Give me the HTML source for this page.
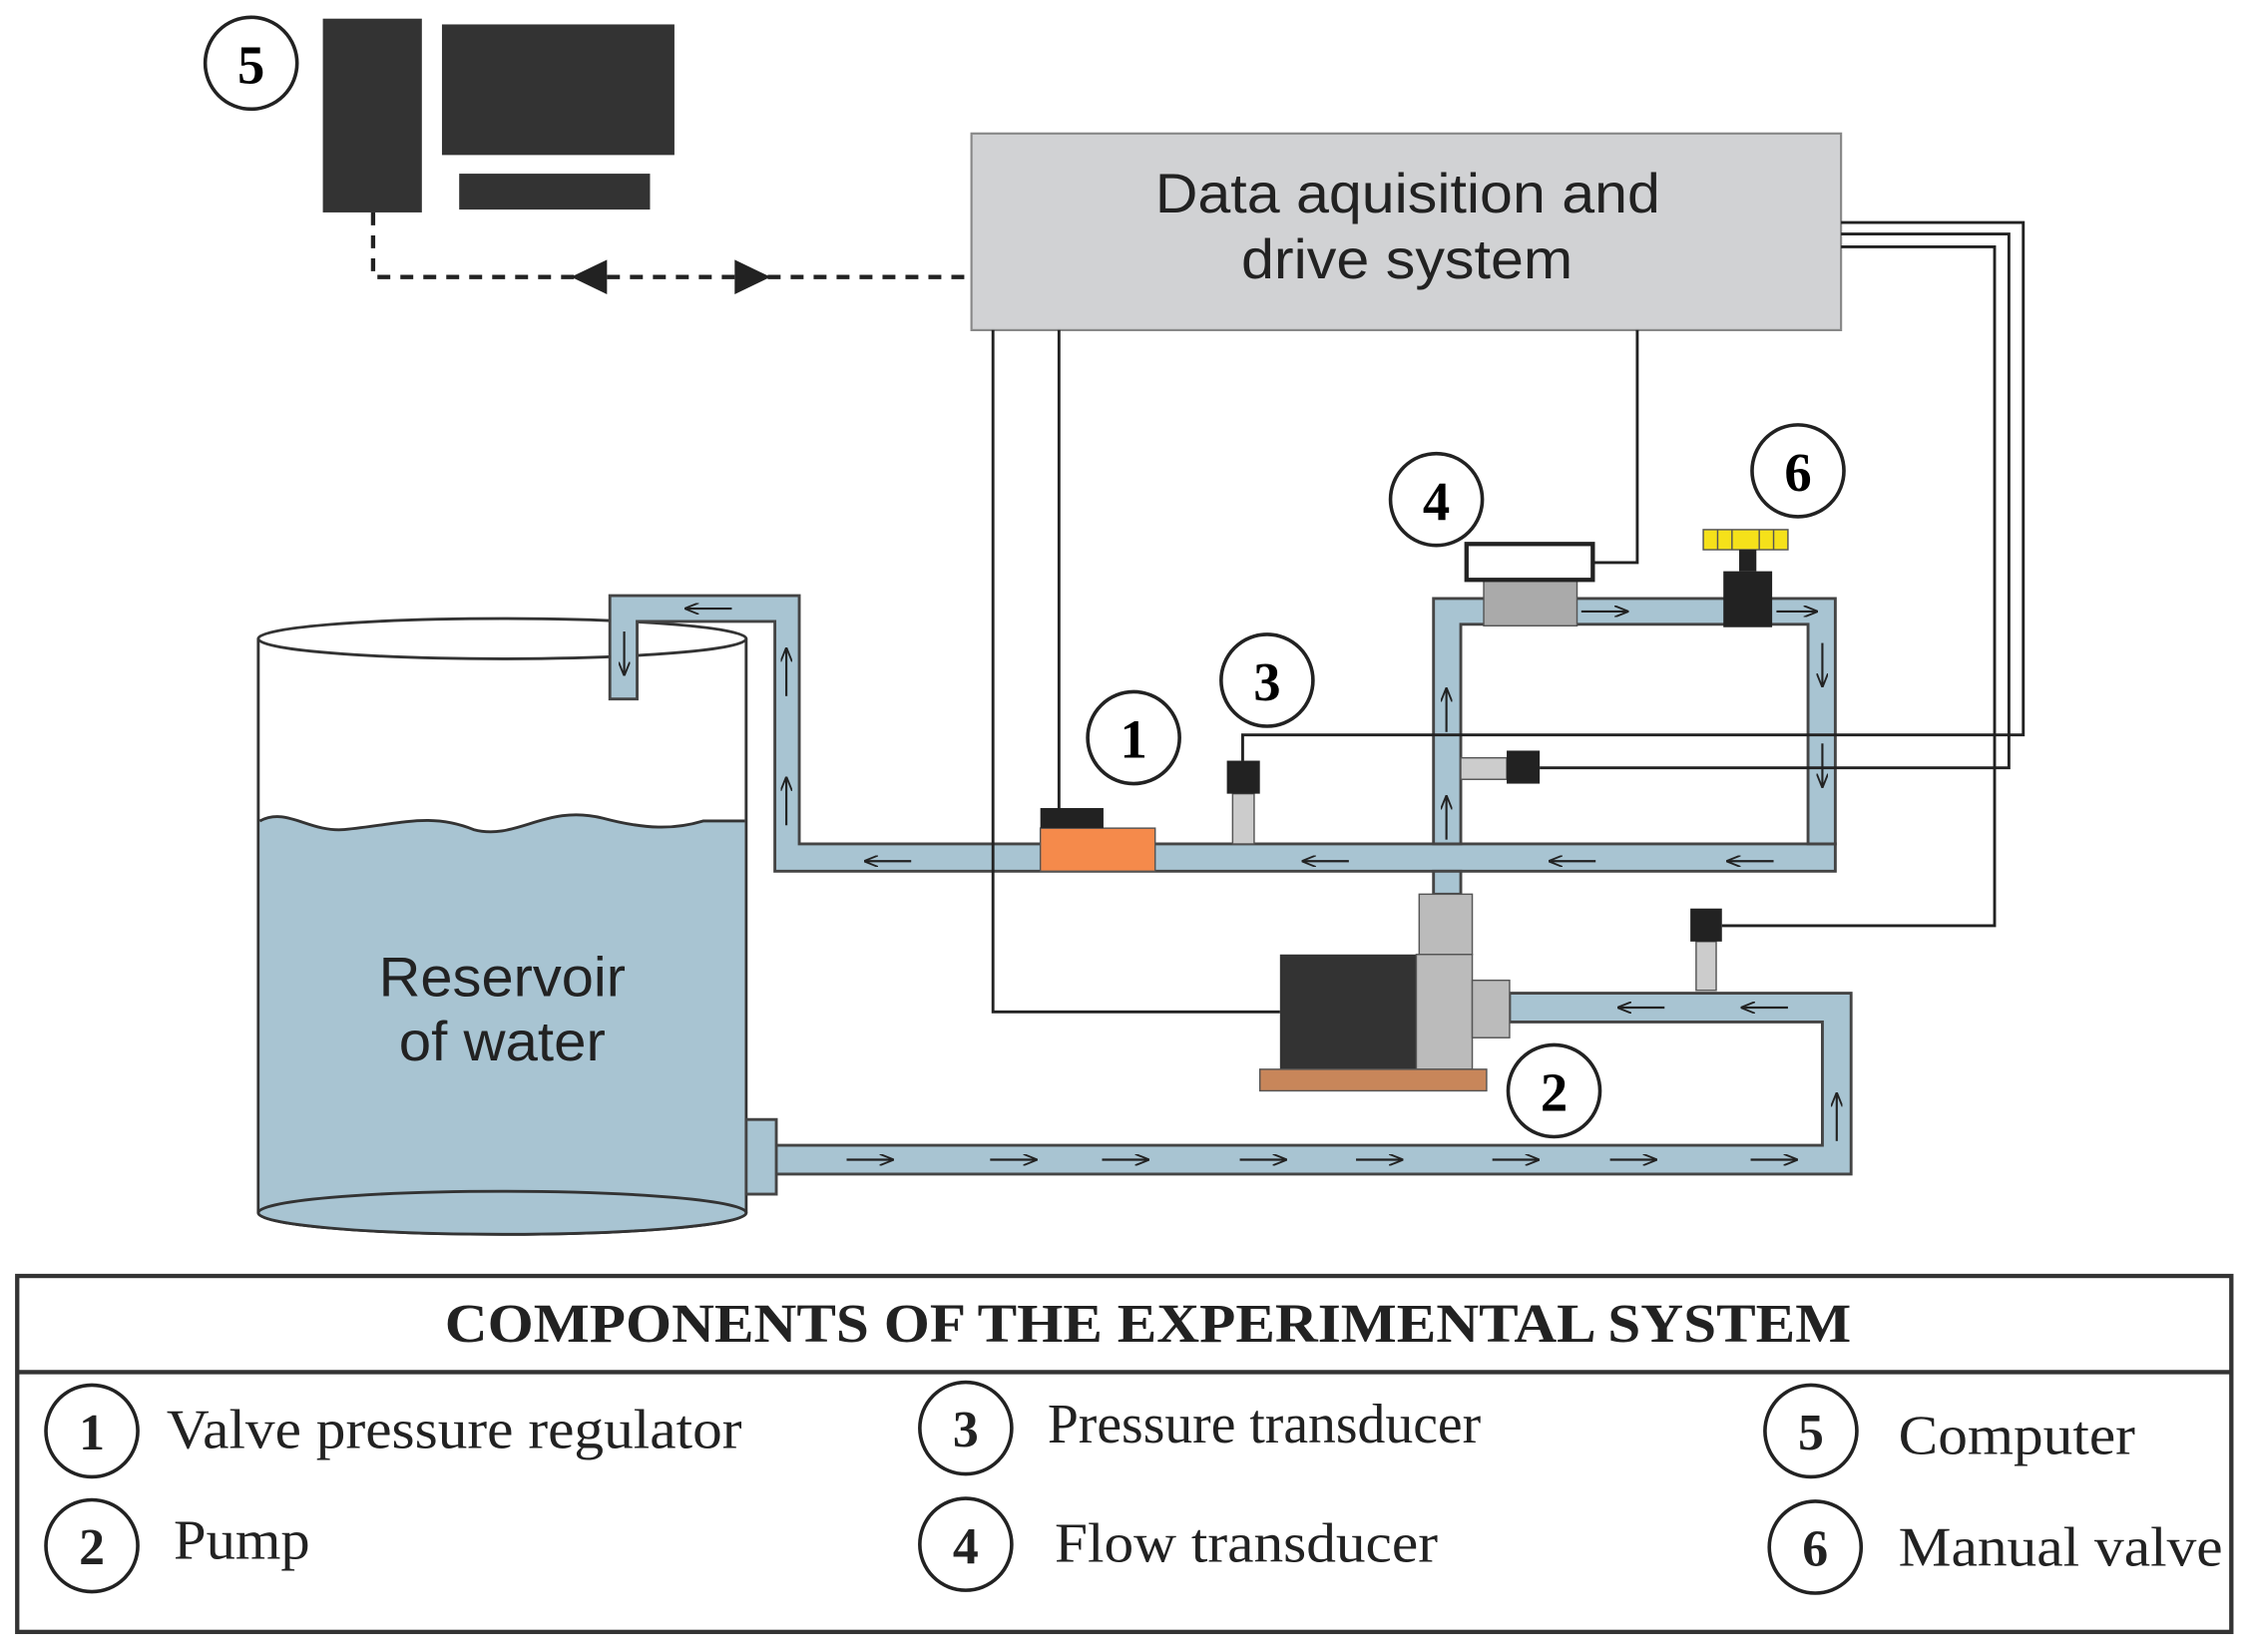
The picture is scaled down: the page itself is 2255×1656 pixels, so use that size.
<!DOCTYPE html>
<html><head><meta charset="utf-8"><style>
html,body{margin:0;padding:0;background:#fff;}
svg{display:block;}
</style></head><body>
<svg width="2255" height="1656" viewBox="0 0 1568 1151" preserveAspectRatio="none" xmlns="http://www.w3.org/2000/svg">
<defs>
<marker id="ah" markerWidth="10" markerHeight="8" refX="9" refY="4" orient="auto" markerUnits="userSpaceOnUse"><path d="M0,0 L10,4 L0,8" fill="none" stroke="#222" stroke-width="1.3"/></marker>
</defs>
<rect width="1568" height="1151" fill="#fff"/>
<rect x="225" y="13" width="69" height="135" fill="#333"/>
<rect x="308" y="17" width="162" height="91" fill="#333"/>
<rect x="320" y="121" width="133" height="25" fill="#333"/>
<circle cx="175" cy="44" r="32" fill="#fff" stroke="#222" stroke-width="2.5"/>
<text x="175" y="58" font-family="Liberation Serif" font-weight="bold" font-size="38" text-anchor="middle">5</text>
<path d="M260,148 V193 H677" fill="none" stroke="#222" stroke-width="3" stroke-dasharray="9,7"/>
<polygon points="398,193 423,181 423,205" fill="#222"/>
<polygon points="537,193 512,181 512,205" fill="#222"/>
<rect x="677" y="93" width="606" height="137" fill="#d1d2d4" stroke="#888" stroke-width="1.5"/>
<text x="805" y="148" textLength="352" lengthAdjust="spacingAndGlyphs" font-family="Liberation Sans" font-size="39" fill="#222">Data aquisition and</text>
<text x="865" y="194" textLength="231" lengthAdjust="spacingAndGlyphs" font-family="Liberation Sans" font-size="39" fill="#222">drive system</text>
<!-- tank -->
<path d="M180,445 V845 A170,15 0 0 0 520,845 V445" fill="#fff" stroke="#333" stroke-width="2"/>
<path d="M181,572 C200,562 215,580 240,578 C280,574 300,566 330,578 C360,586 380,560 420,570 C450,578 470,578 490,572 L519,572 V845 A169,14 0 0 1 181,845 Z" fill="#a8c4d2"/>
<path d="M181,572 C200,562 215,580 240,578 C280,574 300,566 330,578 C360,586 380,560 420,570 C450,578 470,578 490,572 L519,572" fill="none" stroke="#333" stroke-width="2"/>
<ellipse cx="350" cy="845" rx="170" ry="15" fill="#a8c4d2" stroke="#333" stroke-width="2"/>
<ellipse cx="350" cy="445" rx="170" ry="14" fill="#fff" stroke="#333" stroke-width="2"/>
<text x="264" y="694" textLength="172" lengthAdjust="spacingAndGlyphs" font-family="Liberation Sans" font-size="39" fill="#222">Reservoir</text>
<text x="278" y="739" textLength="144" lengthAdjust="spacingAndGlyphs" font-family="Liberation Sans" font-size="39" fill="#222">of water</text>
<!-- pipes -->
<g fill="#a8c4d2" stroke="#444" stroke-width="2">
<path d="M425,415 H557 V588 H1279 V607 H540 V433 H444 V487 H425 Z"/>
<path d="M999,417 H1279 V588 H1260 V435 H1018 V588 H999 Z"/>
<rect x="999" y="607" width="19" height="16"/>
<path d="M1052,692 H1290 V818 H540 V798 H1270 V712 H1052 Z"/>
<rect x="520" y="780" width="21" height="52"/>
</g>
<!-- wires -->
<g fill="none" stroke="#222" stroke-width="2">
<path d="M738,230 V565"/>
<path d="M692,230 V705 H892"/>
<path d="M1141,230 V392 H1110"/>
<path d="M1283,155 H1410 V512 H866 V530"/>
<path d="M1283,163 H1400 V535 H1073"/>
<path d="M1283,172 H1390 V645 H1200"/>
</g>
<rect x="989" y="623" width="37" height="42" fill="#bbb" stroke="#555" stroke-width="1"/>
<rect x="892" y="665" width="95" height="80" fill="#333"/>
<rect x="987" y="665" width="39" height="80" fill="#bbb" stroke="#555" stroke-width="1"/>
<rect x="1026" y="683" width="26" height="40" fill="#bbb" stroke="#555" stroke-width="1"/>
<rect x="878" y="745" width="158" height="15" fill="#c8865a" stroke="#555" stroke-width="1"/>
<rect x="725" y="577" width="80" height="30" fill="#f58a4b" stroke="#555" stroke-width="1"/>
<rect x="725" y="563" width="44" height="14" fill="#222"/>
<rect x="859" y="553" width="15" height="35" fill="#ccc" stroke="#555"/>
<rect x="855" y="530" width="23" height="23" fill="#222"/>
<rect x="1034" y="404" width="65" height="32" fill="#aaa" stroke="#555"/>
<rect x="1022" y="379" width="88" height="25" fill="#fff" stroke="#222" stroke-width="3"/>
<rect x="1187" y="369" width="59" height="14" fill="#f5e11a" stroke="#555"/>
<g stroke="#555" stroke-width="1"><line x1="1197" y1="369" x2="1197" y2="383"/><line x1="1207" y1="369" x2="1207" y2="383"/><line x1="1226" y1="369" x2="1226" y2="383"/><line x1="1236" y1="369" x2="1236" y2="383"/></g>
<rect x="1212" y="383" width="12" height="15" fill="#222"/>
<rect x="1201" y="398" width="34" height="39" fill="#222"/>
<rect x="1018" y="528" width="32" height="15" fill="#ccc" stroke="#555"/>
<rect x="1050" y="523" width="23" height="23" fill="#222"/>
<rect x="1182" y="656" width="14" height="34" fill="#ccc" stroke="#555"/>
<rect x="1178" y="633" width="22" height="23" fill="#222"/>
<g stroke="#222" stroke-width="1.5" marker-end="url(#ah)">
<line x1="510" y1="424" x2="478" y2="424"/>
<line x1="435" y1="440" x2="435" y2="470"/>
<line x1="548" y1="485" x2="548" y2="452"/>
<line x1="548" y1="575" x2="548" y2="542"/>
<line x1="635" y1="600" x2="603" y2="600"/>
<line x1="940" y1="600" x2="908" y2="600"/>
<line x1="1112" y1="600" x2="1080" y2="600"/>
<line x1="1236" y1="600" x2="1204" y2="600"/>
<line x1="1008" y1="585" x2="1008" y2="555"/>
<line x1="1008" y1="510" x2="1008" y2="480"/>
<line x1="1102" y1="426" x2="1134" y2="426"/>
<line x1="1238" y1="426" x2="1266" y2="426"/>
<line x1="1270" y1="448" x2="1270" y2="478"/>
<line x1="1270" y1="518" x2="1270" y2="548"/>
<line x1="1160" y1="702" x2="1128" y2="702"/>
<line x1="1246" y1="702" x2="1214" y2="702"/>
<line x1="1280" y1="795" x2="1280" y2="762"/>
<line x1="590" y1="808" x2="622" y2="808"/>
<line x1="690" y1="808" x2="722" y2="808"/>
<line x1="768" y1="808" x2="800" y2="808"/>
<line x1="864" y1="808" x2="896" y2="808"/>
<line x1="945" y1="808" x2="977" y2="808"/>
<line x1="1040" y1="808" x2="1072" y2="808"/>
<line x1="1122" y1="808" x2="1154" y2="808"/>
<line x1="1220" y1="808" x2="1252" y2="808"/>
</g>
<g font-family="Liberation Serif" font-weight="bold" font-size="38" text-anchor="middle">
<circle cx="1001" cy="348" r="32" fill="#fff" stroke="#222" stroke-width="2.5"/><text x="1001" y="362">4</text>
<circle cx="1253" cy="328" r="32" fill="#fff" stroke="#222" stroke-width="2.5"/><text x="1253" y="342">6</text>
<circle cx="883" cy="474" r="32" fill="#fff" stroke="#222" stroke-width="2.5"/><text x="883" y="488">3</text>
<circle cx="790" cy="514" r="32" fill="#fff" stroke="#222" stroke-width="2.5"/><text x="790" y="528">1</text>
<circle cx="1083" cy="760" r="32" fill="#fff" stroke="#222" stroke-width="2.5"/><text x="1083" y="774">2</text>
</g>
<rect x="12" y="889" width="1543" height="248" fill="#fff" stroke="#333" stroke-width="3"/>
<line x1="12" y1="956" x2="1555" y2="956" stroke="#333" stroke-width="3"/>
<text x="310" y="935" textLength="980" lengthAdjust="spacingAndGlyphs" font-family="Liberation Serif" font-weight="bold" font-size="38" fill="#222">COMPONENTS OF THE EXPERIMENTAL SYSTEM</text>
<g font-family="Liberation Serif" font-weight="bold" font-size="36" text-anchor="middle" fill="#222">
<circle cx="64" cy="997" r="32" fill="#fff" stroke="#222" stroke-width="2.5"/><text x="64" y="1010">1</text>
<circle cx="64" cy="1077" r="32" fill="#fff" stroke="#222" stroke-width="2.5"/><text x="64" y="1090">2</text>
<circle cx="673" cy="995" r="32" fill="#fff" stroke="#222" stroke-width="2.5"/><text x="673" y="1008">3</text>
<circle cx="673" cy="1076" r="32" fill="#fff" stroke="#222" stroke-width="2.5"/><text x="673" y="1089">4</text>
<circle cx="1262" cy="997" r="32" fill="#fff" stroke="#222" stroke-width="2.5"/><text x="1262" y="1010">5</text>
<circle cx="1265" cy="1078" r="32" fill="#fff" stroke="#222" stroke-width="2.5"/><text x="1265" y="1091">6</text>
</g>
<g font-family="Liberation Serif" font-size="39" fill="#222" lengthAdjust="spacingAndGlyphs">
<text x="116" y="1009" textLength="401" lengthAdjust="spacingAndGlyphs">Valve pressure regulator</text>
<text x="121" y="1086" textLength="95" lengthAdjust="spacingAndGlyphs">Pump</text>
<text x="730" y="1005" textLength="302" lengthAdjust="spacingAndGlyphs">Pressure transducer</text>
<text x="735" y="1088" textLength="267" lengthAdjust="spacingAndGlyphs">Flow transducer</text>
<text x="1323" y="1013" textLength="165" lengthAdjust="spacingAndGlyphs">Computer</text>
<text x="1323" y="1091" textLength="226" lengthAdjust="spacingAndGlyphs">Manual valve</text>
</g>
</svg>
</body></html>
